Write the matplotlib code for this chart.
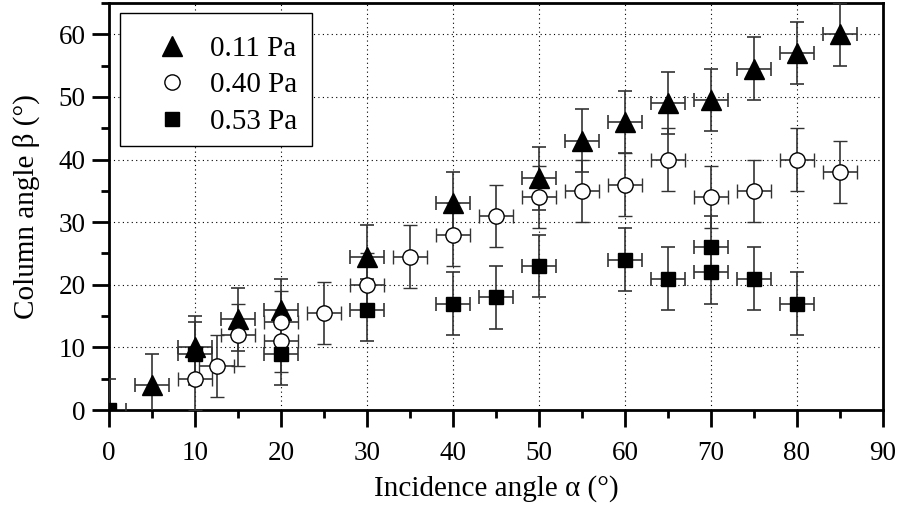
import matplotlib
matplotlib.use("Agg")
import matplotlib.pyplot as plt
from matplotlib.ticker import MultipleLocator
from matplotlib.lines import Line2D
from matplotlib.patches import Rectangle

plt.rcParams['font.family'] = ['Liberation Serif', 'DejaVu Serif']

# Data
x_011 = [5, 10, 15, 20, 30, 40, 50, 55, 60, 65, 70, 75, 80, 85]
y_011 = [4, 10, 14.5, 16, 24.5, 33, 37, 43, 46, 49, 49.5, 54.5, 57, 60]

x_040 = [10, 12.5, 15, 20, 20, 25, 30, 35, 40, 45, 50, 55, 60, 65, 70, 75, 80, 85]
y_040 = [5, 7, 12, 14, 11, 15.5, 20, 24.5, 28, 31, 34, 35, 36, 40, 34, 35, 40, 38]

x_053 = [0, 10, 20, 30, 40, 45, 50, 60, 65, 70, 70, 75, 80]
y_053 = [0, 9, 9, 16, 17, 18, 23, 24, 21, 26, 22, 21, 17]

x_err = 2.0
y_err = 5.0

labels = ['0.11 Pa', '0.40 Pa', '0.53 Pa']

fig = plt.figure(figsize=(8.99, 5.12), dpi=100)
ax = fig.add_axes([109/899, (512-410)/512, (883-109)/899, (410-3)/512])

eb_kw = dict(ecolor='#333333', elinewidth=1.2, capsize=5, capthick=1.2, linestyle='none')

ax.errorbar(x_011, y_011, xerr=x_err, yerr=y_err, marker='^', ms=14,
            mfc='black', mec='black', zorder=3, **eb_kw)
ax.errorbar(x_040, y_040, xerr=x_err, yerr=y_err, marker='o', ms=11,
            mfc='white', mec='black', mew=1.0, zorder=3, **eb_kw)
ax.errorbar(x_053, y_053, xerr=x_err, yerr=y_err, marker='s', ms=9.5,
            mfc='black', mec='black', zorder=3, **eb_kw)

ax.set_xlim(0, 90)
ax.set_ylim(0, 65)
ax.xaxis.set_major_locator(MultipleLocator(10))
ax.xaxis.set_minor_locator(MultipleLocator(5))
ax.yaxis.set_major_locator(MultipleLocator(10))
ax.yaxis.set_minor_locator(MultipleLocator(5))

ax.grid(True, which='major', color='black', linestyle=(0, (1, 3)), linewidth=0.8)
ax.set_axisbelow(True)

for s in ax.spines.values():
    s.set_linewidth(2.0)

ax.tick_params(which='major', direction='out', length=12, width=2, labelsize=19.5,
               top=False, right=False)
ax.tick_params(axis='x', which='major', pad=10)
ax.tick_params(axis='y', which='major', pad=5)
ax.tick_params(which='minor', direction='out', length=6, width=2,
               top=False, right=False)

ax.set_xlabel('Incidence angle α (°)', fontsize=21, labelpad=7)
ax.set_ylabel('Column angle β (°)', fontsize=21, labelpad=13)

# legend frame drawn separately
frame = Rectangle((0.0142, 0.6486), 0.2481, 0.9754 - 0.6486, transform=ax.transAxes,
                  facecolor='white', edgecolor='black', linewidth=1.0, zorder=6)
ax.add_patch(frame)

lh = [Line2D([], [], marker='^', ms=14, color='black', ls='none'),
      Line2D([], [], marker='o', ms=11, mfc='white', mec='black', ls='none'),
      Line2D([], [], marker='s', ms=9.5, color='black', ls='none')]
leg = ax.legend(lh, labels, loc='upper left', bbox_to_anchor=(0.014, 0.967),
                borderaxespad=0, fontsize=21, frameon=False, handletextpad=0.15,
                borderpad=0.65, labelspacing=0.35, handlelength=2.3)
leg.set_zorder(7)

fig.savefig('out.png', dpi=100)
